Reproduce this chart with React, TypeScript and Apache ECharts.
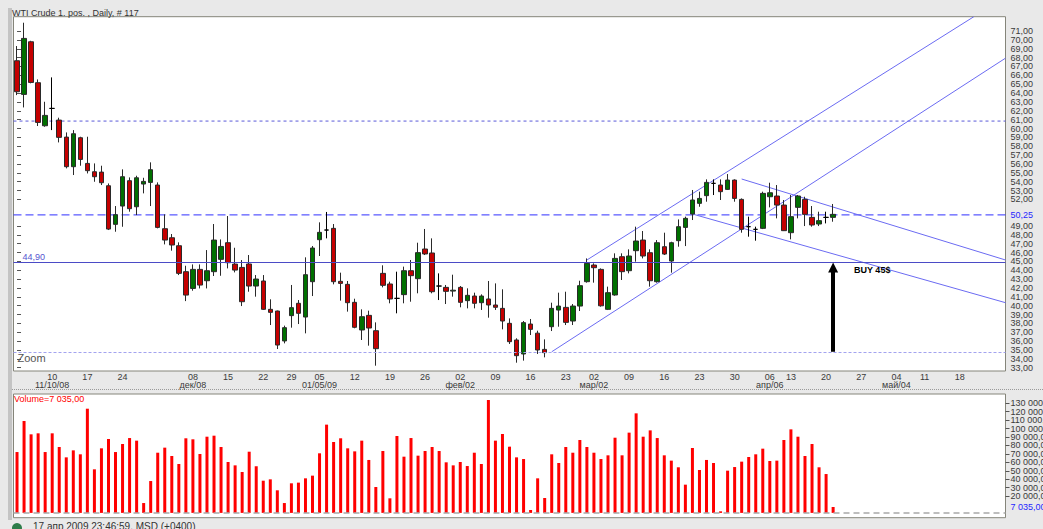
import React, { useEffect, useRef } from 'react';
import * as echarts from 'echarts';

// ---------- data ----------
const slotCount = 141; // trading-day slots across the price panel (117 filled)
const categories: string[] = Array.from({ length: slotCount }, (_, i) => 'd' + i);

// [open, close, low, high]
const candles: number[][] = [
  [67.65, 64.15, 63.77, 69.31], [63.85, 70.17, 62.38, 71.94], [69.79, 65.2, 65.1, 69.9], [65.17, 60.69, 60.28, 65.54],
  [60.31, 61.48, 60.2, 63.02], [62.27, 62.27, 59.82, 65.77], [60.95, 59.0, 58.43, 61.22], [59.03, 55.69, 55.5, 59.56],
  [55.69, 59.41, 54.75, 59.82], [58.96, 56.51, 55.8, 59.07], [56.06, 55.24, 54.93, 59.07], [55.12, 54.56, 53.99, 56.06],
  [55.08, 53.88, 53.62, 55.8], [53.54, 48.65, 48.54, 53.8], [49.18, 50.27, 48.35, 51.25], [51.25, 54.56, 48.91, 55.39],
  [54.11, 50.95, 50.61, 54.48], [51.17, 54.44, 50.23, 54.67], [53.73, 54.03, 52.68, 54.44], [53.92, 55.35, 51.25, 56.18],
  [53.62, 48.84, 48.73, 53.92], [48.69, 47.41, 46.92, 50.31], [47.67, 46.85, 46.21, 48.09], [46.77, 43.65, 43.46, 47.15],
  [43.84, 41.2, 40.52, 44.51], [41.95, 44.1, 41.69, 44.66], [44.1, 42.33, 41.95, 44.66], [42.82, 43.95, 41.95, 46.28],
  [43.84, 47.41, 43.35, 49.22], [45.23, 46.69, 43.38, 47.48], [47.11, 44.85, 44.21, 50.12], [44.7, 44.02, 43.76, 46.54],
  [44.32, 40.45, 39.96, 45.15], [44.71, 42.22, 41.58, 45.72], [42.22, 43.01, 41.02, 43.46], [42.79, 39.59, 39.52, 43.46],
  [39.59, 39.25, 37.82, 40.72], [39.4, 35.56, 35.11, 39.45], [36.02, 37.52, 35.75, 37.75], [38.88, 39.78, 37.52, 42.34],
  [40.27, 39.14, 37.93, 40.64], [38.72, 43.5, 36.88, 45.46], [42.71, 46.51, 41.09, 46.74], [47.45, 48.28, 45.61, 49.41],
  [48.54, 48.54, 47.6, 50.58], [48.73, 42.71, 42.41, 49.22], [42.75, 42.52, 40.57, 43.73], [42.41, 40.34, 39.33, 42.79],
  [40.38, 37.56, 37.45, 40.79], [37.26, 38.76, 36.13, 39.59], [38.91, 37.48, 35.49, 39.44], [37.18, 35.15, 33.23, 38.12],
  [43.65, 42.3, 42.07, 44.56], [42.45, 40.76, 40.27, 42.71], [40.83, 40.83, 39.14, 43.84], [41.25, 43.95, 40.27, 44.41],
  [43.95, 43.39, 40.45, 45.16], [43.05, 45.99, 41.4, 47.11], [46.4, 45.84, 45.72, 48.66], [45.95, 41.58, 41.4, 47.6],
  [42.22, 42.22, 40.64, 43.65], [42.07, 41.62, 40.19, 42.34], [41.65, 41.75, 41.02, 43.5], [42.07, 40.38, 39.82, 42.22],
  [40.57, 41.17, 39.7, 41.96], [41.09, 40.27, 39.7, 41.47], [40.34, 41.09, 39.52, 41.28], [40.76, 40.08, 38.65, 42.79],
  [40.08, 39.82, 39.52, 42.52], [39.7, 38.27, 37.33, 41.85], [38.01, 35.94, 35.68, 38.57], [36.13, 34.36, 33.57, 36.32],
  [34.55, 38.09, 33.8, 38.27], [37.93, 37.33, 36.69, 38.5], [36.9, 35.0, 34.55, 37.18], [35.07, 34.7, 34.17, 36.2],
  [37.63, 39.7, 37.14, 40.34], [39.51, 39.96, 37.63, 41.47], [39.81, 38.12, 37.82, 41.58], [38.27, 39.96, 37.82, 40.19],
  [39.96, 42.26, 39.4, 42.82], [42.71, 44.78, 42.6, 45.34], [44.59, 44.29, 42.6, 44.78], [44.1, 39.99, 39.89, 44.21],
  [39.59, 41.47, 39.51, 42.15], [41.21, 45.34, 41.13, 45.91], [45.53, 43.84, 42.9, 45.91], [43.95, 45.61, 43.65, 46.36],
  [46.21, 47.3, 44.97, 48.92], [47.41, 45.61, 45.34, 48.43], [45.98, 42.82, 42.15, 46.36], [42.71, 47.11, 42.6, 47.41],
  [46.66, 45.83, 45.72, 48.24], [45.04, 47.11, 43.73, 47.22], [47.34, 48.92, 46.66, 49.74], [48.84, 49.86, 46.73, 50.05],
  [50.35, 51.93, 49.67, 53.06], [51.55, 52.11, 51.17, 52.87], [52.42, 53.92, 51.74, 54.26], [53.81, 53.81, 52.49, 54.26],
  [53.62, 52.87, 51.93, 54.26], [53.13, 54.18, 53.06, 54.86], [54.18, 52.11, 51.74, 54.26], [52.0, 48.62, 48.24, 52.11],
  [48.92, 48.92, 47.79, 50.05], [48.62, 48.62, 47.34, 48.92], [48.73, 52.68, 48.65, 52.87], [52.3, 52.75, 51.1, 53.88],
  [52.38, 51.36, 49.86, 53.62], [51.36, 48.47, 48.43, 51.93], [48.24, 50.05, 47.49, 52.49], [51.1, 52.38, 49.86, 52.49],
  [52.0, 50.31, 48.99, 52.3], [49.97, 49.11, 48.92, 51.25], [49.22, 49.6, 48.99, 50.61], [49.97, 49.97, 49.29, 50.61],
  [49.97, 50.31, 49.48, 51.48],
];

const volumes: number[] = [
  72200, 109000, 93200, 94400, 72200, 94400, 78200, 65900, 74200, 69500,
  123600, 51700, 76600, 87700, 72200, 81700, 88800, 85700, 11700, 37800,
  71400, 77400, 67500, 58000, 88500, 87300, 69900, 90400, 91600, 78200,
  60400, 56400, 48500, 72600, 55200, 38200, 39800, 26800, 11700, 35100,
  35900, 41000, 44200, 70700, 104700, 84100, 88500, 76600, 73000, 85700,
  62800, 30700, 73400, 17300, 91200, 66700, 88800, 67900, 73400, 78200,
  73400, 60000, 56400, 60400, 55600, 71400, 58000, 133900, 85700, 93600,
  78600, 65900, 63900, 3440, 41000, 17700, 69500, 59200, 78200, 71400,
  86500, 78200, 71400, 63900, 68300, 89200, 68300, 95200, 118100, 90400,
  97900, 88800, 68300, 62000, 54100, 33500, 77000, 50900, 62800, 59200,
  1860, 50100, 54400, 60800, 66300, 69500, 76200, 61600, 62000, 86500,
  99100, 90400, 67500, 81700, 54100, 46100, 7035,
];

// date tick labels: slot index, day, month/date line
const dateTickIdx = [5, 10, 15, 25, 30, 35, 39, 43, 48, 53, 58, 63, 68, 73, 78, 82, 87, 92, 97, 102, 107, 110, 115, 120, 125, 129, 134];
const dateTickDay = ['10', '17', '24', '08', '15', '22', '29', '05', '12', '19', '26', '02', '09', '16', '23', '02', '09', '16', '23', '30', '06', '13', '20', '27', '04', '11', '18'];
const dateTickMonth = ['11/10/08', '', '', 'дек/08', '', '', '', '01/05/09', '', '', '', 'фев/02', '', '', '', 'мар/02', '', '', '', '', 'апр/06', '', '', '', 'май/04', '', ''];

const priceTicks = [33, 34, 35, 36, 37, 38, 39, 40, 41, 42, 43, 44, 45, 46, 47, 48, 49, 52, 53, 54, 55, 56, 57, 58, 59, 60, 61, 62, 63, 64, 65, 66, 67, 68, 69, 70, 71];
const volumeTicksEven = [20000, 40000, 60000, 80000, 100000, 120000];
const volumeTicksOdd = [30000, 50000, 70000, 90000, 110000, 130000];

// horizontal levels
const level61 = 60.84;
const level50 = 50.25;
const level45 = 44.9;
const levelZoom = 34.8;

// trend lines [slot, price]
const trendA = [[76.0, 34.8], [140.5, 67.94]];
const trendB = [[81.0, 45.16], [136.0, 72.62]];
const trendC = [[103.0, 54.3], [140.5, 45.16]];
const trendD = [[96.0, 50.35], [140.5, 40.34]];
const buyArrow = { slot: 116, from: 34.8, to: 44.3 };
const buyText = { slot: 118.9, price: 44.06, text: 'BUY 45$' };
const lastVolume = 7035;

// ---------- helpers ----------
const FONT = '"Liberation Sans", Arial, sans-serif';
const fmtPrice = (v: number) => v.toFixed(2).replace('.', ',');
const fmtVol = (v: number) =>
  Math.round(v).toString().replace(/\B(?=(\d{3})+(?!\d))/g, ' ') + ',00';

const PRICE_MIN = 32.63;
const PRICE_MAX = 72.62;
const VOL_MIN = -5694;
const VOL_MAX = 141044;
const X_MIN = -0.5;
const X_MAX = slotCount - 0.5;
const CLEAR = 'rgba(0,0,0,0)';

const tickMap: Record<number, string> = {};
dateTickIdx.forEach((idx, k) => {
  tickMap[idx] = dateTickMonth[k] ? dateTickDay[k] + '\n' + dateTickMonth[k] : dateTickDay[k];
});

const trendStyle = { color: '#6b6bf2', width: 1 };
const overlaySeries = (name: string, pts: number[][], lineStyle: any, extra: any = {}) => ({
  name,
  type: 'line',
  xAxisIndex: 1,
  yAxisIndex: 0,
  data: pts,
  symbol: 'none',
  silent: true,
  clip: true,
  lineStyle,
  z: 3,
  ...extra,
});

const volAxis = (ticks: number[]) => ({
  type: 'value', gridIndex: 1, position: 'right', min: VOL_MIN, max: VOL_MAX,
  splitLine: { show: false }, axisLine: { show: false },
  axisTick: { show: true, customValues: ticks, length: 4, lineStyle: { color: '#555' } },
  axisLabel: {
    customValues: ticks, formatter: fmtVol, color: '#3a3a3a', fontSize: 9, fontFamily: FONT, margin: 5,
    showMinLabel: true, showMaxLabel: true, hideOverlap: false,
  },
});

const option: any = {
  animation: false,
  backgroundColor: '#e9e9e9',
  textStyle: { fontFamily: FONT },
  grid: [
    { left: 13.5, top: 16.7, width: 992, height: 354.3, show: true, backgroundColor: '#ffffff', borderColor: '#85857a', borderWidth: 1, outerBoundsMode: 'none' },
    { left: 13.5, top: 394, width: 992, height: 123.7, show: true, backgroundColor: '#ffffff', borderColor: '#85857a', borderWidth: 1, outerBoundsMode: 'none' },
  ],
  xAxis: [
    {
      type: 'category', gridIndex: 0, data: categories, boundaryGap: true,
      axisLine: { show: false }, axisTick: { show: false }, splitLine: { show: false },
      axisLabel: {
        interval: (i: number) => tickMap[i] !== undefined,
        formatter: (_v: string, i: number) => tickMap[i] || '',
        color: '#3a3a3a', fontSize: 9, fontFamily: FONT, margin: 2, lineHeight: 8,
      },
    },
    { type: 'value', gridIndex: 0, min: X_MIN, max: X_MAX, show: false },
    {
      type: 'category', gridIndex: 1, data: categories, boundaryGap: true,
      axisLine: { show: false }, axisTick: { show: false }, axisLabel: { show: false }, splitLine: { show: false },
    },
  ],
  yAxis: [
    {
      type: 'value', gridIndex: 0, position: 'right', min: PRICE_MIN, max: PRICE_MAX, scale: true,
      splitLine: { show: false }, axisLine: { show: false },
      axisTick: { show: true, customValues: priceTicks, length: 4, lineStyle: { color: '#555' } },
      axisLabel: {
        customValues: priceTicks, formatter: fmtPrice, color: '#3a3a3a', fontSize: 9, lineHeight: 8, fontFamily: FONT, margin: 5,
        showMinLabel: true, showMaxLabel: true, hideOverlap: false,
      },
    },
    volAxis(volumeTicksEven),
    volAxis(volumeTicksOdd),
  ],
  series: [
    {
      name: 'WTI',
      type: 'candlestick',
      xAxisIndex: 0,
      yAxisIndex: 0,
      data: candles,
      barWidth: 5,
      z: 4,
      itemStyle: {
        color: '#007000',
        color0: '#c40000',
        borderColor: '#2a2a2a',
        borderColor0: '#2a2a2a',
        borderColorDoji: '#000000',
        borderWidth: 1,
      },
      markLine: {
        silent: true,
        symbol: 'none',
        animation: false,
        data: [
          {
            yAxis: level50, lineStyle: { color: CLEAR, width: 1 },
            label: { show: true, position: 'end', formatter: '50,25', color: '#2626ff', fontSize: 9, fontFamily: FONT, distance: 5 },
          },
          {
            yAxis: level45, lineStyle: { color: '#4b4bc6', type: 'solid', width: 1 },
            label: { show: true, position: 'insideStartTop', formatter: '44,90', color: '#5555d0', fontSize: 9, fontFamily: FONT, distance: [9, 1] },
          },
          {
            yAxis: levelZoom, lineStyle: { color: '#a3a3ef', type: [3, 2], width: 1 },
            label: { show: true, position: 'insideStartBottom', formatter: 'Zoom', color: '#555555', fontSize: 11, fontFamily: FONT, distance: [4, 1] },
          },
        ],
      },
    },
    overlaySeries('level61', [[X_MIN, level61], [X_MAX, level61]], { color: '#5a5ad8', width: 1, type: [3, 3] }),
    overlaySeries('level50', [[X_MIN, level50], [X_MAX, level50]], { color: '#3030ff', width: 1, type: [8, 4] }),
    overlaySeries('trendA', trendA, trendStyle, {
      markLine: {
        silent: true,
        animation: false,
        data: [
          [
            { coord: [buyArrow.slot, buyArrow.from], symbol: 'none' },
            { coord: [buyArrow.slot, buyArrow.to], symbol: 'triangle', symbolSize: [10, 10] },
          ],
        ],
        lineStyle: { color: '#000000', width: 4, type: 'solid' },
        itemStyle: { color: '#000000' },
        label: { show: false },
      },
      markPoint: {
        silent: true,
        animation: false,
        symbol: 'circle',
        symbolSize: 1,
        itemStyle: { color: CLEAR },
        label: { show: true, position: 'right', distance: 0, formatter: buyText.text, color: '#000', fontWeight: 'bold', fontSize: 9, fontFamily: FONT },
        data: [{ coord: [buyText.slot, buyText.price] }],
      },
    }),
    overlaySeries('trendB', trendB, trendStyle),
    overlaySeries('trendC', trendC, trendStyle),
    overlaySeries('trendD', trendD, trendStyle),
    {
      name: 'Volume',
      type: 'bar',
      xAxisIndex: 2,
      yAxisIndex: 1,
      data: volumes,
      barWidth: 3,
      itemStyle: { color: '#ff0000' },
      markLine: {
        silent: true,
        symbol: 'none',
        animation: false,
        data: [
          { yAxis: 0, lineStyle: { color: '#a8a8a8', type: [6, 4], width: 1.5 }, label: { show: false } },
          {
            yAxis: lastVolume, lineStyle: { color: CLEAR, width: 1 },
            label: { show: true, position: 'end', formatter: fmtVol(lastVolume), color: '#2626ff', fontSize: 9, fontFamily: FONT, distance: 5 },
          },
        ],
      },
    },
  ],
  graphic: [
    { type: 'rect', left: 8, top: 8, shape: { width: 4, height: 512 }, style: { fill: '#c4c4c4' }, silent: true },
    { type: 'line', shape: { x1: 12, y1: 389.5, x2: 1043, y2: 389.5 }, style: { stroke: '#9a9a9a', lineWidth: 1, lineDash: [1, 1] }, silent: true },
    { type: 'text', left: 12, top: 8, style: { text: 'WTI Crude 1. pos. , Daily, # 117', fill: '#333333', fontSize: 9, fontFamily: FONT }, silent: true },
    { type: 'text', left: 14, top: 394, style: { text: 'Volume=' + fmtVol(lastVolume), fill: '#ff0000', fontSize: 9, fontFamily: FONT }, silent: true, z: 10 },
    { type: 'circle', shape: { cx: 17, cy: 528, r: 5 }, style: { fill: '#2e7d4a' }, silent: true },
    { type: 'text', left: 33, top: 521, style: { text: '17 апр 2009 23:46:59, MSD (+0400)', fill: '#333333', fontSize: 10, fontFamily: FONT }, silent: true },
  ],
};

export default function App() {
  const ref = useRef<HTMLDivElement>(null);
  useEffect(() => {
    if (!ref.current) return;
    const chart = echarts.init(ref.current, null, { renderer: 'svg' });
    chart.setOption(option);
    return () => chart.dispose();
  }, []);
  return <div ref={ref} style={{ position: 'absolute', left: 0, top: 0, width: 1043, height: 529 }} />;
}
